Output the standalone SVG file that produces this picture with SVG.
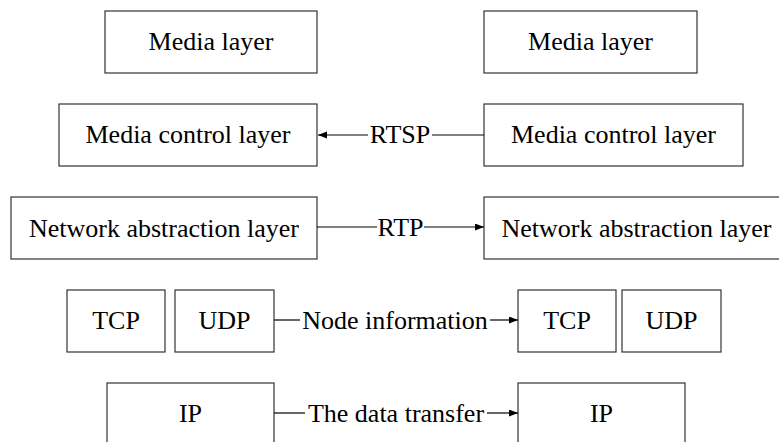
<svg xmlns="http://www.w3.org/2000/svg" width="779" height="442" viewBox="0 0 779 442" font-family="Liberation Serif, Times New Roman, Times, Tinos, DejaVu Serif, Noto Serif, serif">
<style>
.box{fill:#fff;stroke:#333;stroke-width:1.2}
.t{font-size:26px;fill:#000;text-anchor:middle}
.c{stroke:#000;stroke-width:1.2;fill:none}
</style>
<defs>
<marker id="ah" markerUnits="userSpaceOnUse" markerWidth="10" markerHeight="8" refX="9" refY="3.5" orient="auto">
<path d="M0,0 L9,3.5 L0,7 z" fill="#000"/>
</marker>
</defs>
<rect width="779" height="442" fill="#fff"/>
<g id="media-left"><rect class="box" x="105" y="11" width="212" height="62"/><text class="t" x="211" y="50">Media layer</text></g>
<g id="media-right"><rect class="box" x="484" y="11" width="213" height="62"/><text class="t" x="590.5" y="50">Media layer</text></g>
<g id="mcl-left"><rect class="box" x="59" y="104" width="258" height="62"/><text class="t" x="188" y="143">Media control layer</text></g>
<g id="mcl-right"><rect class="box" x="484" y="104" width="259" height="62"/><text class="t" x="613.5" y="143">Media control layer</text></g>
<g id="nal-left"><rect class="box" x="11" y="197" width="306" height="62"/><text class="t" x="164" y="237">Network abstraction layer</text></g>
<g id="nal-right"><rect class="box" x="484" y="197" width="306" height="62"/><text class="t" x="636.5" y="237">Network abstraction layer</text></g>
<g id="tcp-left"><rect class="box" x="67" y="290" width="98" height="62"/><text class="t" x="116" y="329">TCP</text></g>
<g id="udp-left"><rect class="box" x="175" y="290" width="99" height="62"/><text class="t" x="224.5" y="329">UDP</text></g>
<g id="tcp-right"><rect class="box" x="518" y="290" width="98" height="62"/><text class="t" x="567" y="329">TCP</text></g>
<g id="udp-right"><rect class="box" x="622" y="290" width="99" height="62"/><text class="t" x="671.5" y="329">UDP</text></g>
<g id="ip-left"><rect class="box" x="107" y="383" width="167" height="70"/><text class="t" x="190.5" y="422">IP</text></g>
<g id="ip-right"><rect class="box" x="518" y="383" width="167" height="70"/><text class="t" x="601.5" y="422">IP</text></g>
<g id="connectors">
<line class="c" x1="484" y1="135" x2="432" y2="135"/>
<line class="c" x1="368" y1="135" x2="318" y2="135" marker-end="url(#ah)"/>
<text class="t" x="400" y="143">RTSP</text>
<line class="c" x1="317" y1="227" x2="377" y2="227"/>
<line class="c" x1="424" y1="227" x2="484" y2="227" marker-end="url(#ah)"/>
<text class="t" x="400.5" y="236">RTP</text>
<line class="c" x1="274" y1="320" x2="300" y2="320"/>
<line class="c" x1="490" y1="320" x2="518" y2="320" marker-end="url(#ah)"/>
<text class="t" x="395" y="329">Node information</text>
<line class="c" x1="274" y1="413" x2="305" y2="413"/>
<line class="c" x1="487" y1="413" x2="518" y2="413" marker-end="url(#ah)"/>
<text class="t" x="396" y="422">The data transfer</text>
</g>
</svg>
